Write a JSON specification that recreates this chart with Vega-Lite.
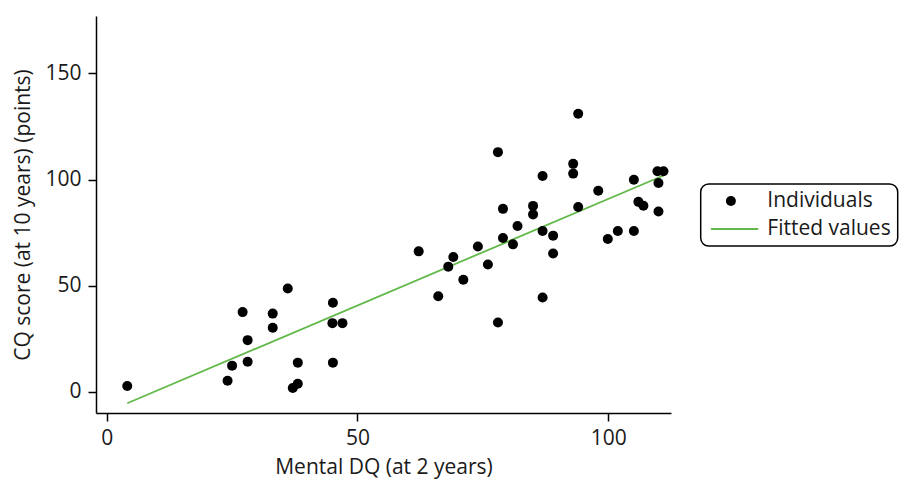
{
  "$schema": "https://vega.github.io/schema/vega-lite/v6.json",
  "width": 575,
  "height": 397,
  "autosize": {"type": "none"},
  "padding": {"left": 96, "top": 16, "right": 230, "bottom": 69},
  "background": "white",
  "config": {
    "view": {"stroke": null},
    "font": "Open Sans",
    "axis": {
      "grid": false,
      "domainColor": "black",
      "domainWidth": 1.5,
      "tickColor": "black",
      "tickWidth": 1.5,
      "tickSize": 8,
      "labelFontSize": 21,
      "titleFontSize": 21,
      "labelColor": "#1a1a1a",
      "titleColor": "#1a1a1a",
      "titleFontWeight": "normal",
      "labelFont": "Open Sans",
      "titleFont": "Open Sans"
    }
  },
  "datasets": {
    "pts": [
      {"dq": 4.1, "cq": 2.8},
      {"dq": 24.1, "cq": 5.3},
      {"dq": 25.0, "cq": 12.4},
      {"dq": 27.1, "cq": 37.6},
      {"dq": 28.1, "cq": 24.4},
      {"dq": 28.1, "cq": 14.2},
      {"dq": 33.1, "cq": 36.9},
      {"dq": 33.1, "cq": 30.2},
      {"dq": 36.1, "cq": 48.7},
      {"dq": 37.1, "cq": 1.9},
      {"dq": 38.1, "cq": 3.9},
      {"dq": 38.1, "cq": 13.8},
      {"dq": 45.1, "cq": 42.0},
      {"dq": 45.0, "cq": 32.4},
      {"dq": 47.0, "cq": 32.4},
      {"dq": 45.1, "cq": 13.8},
      {"dq": 62.2, "cq": 66.2},
      {"dq": 66.1, "cq": 45.1},
      {"dq": 68.1, "cq": 59.0},
      {"dq": 69.1, "cq": 63.5},
      {"dq": 71.1, "cq": 52.8},
      {"dq": 74.0, "cq": 68.5},
      {"dq": 76.0, "cq": 60.0},
      {"dq": 78.0, "cq": 112.9},
      {"dq": 78.0, "cq": 32.7},
      {"dq": 79.0, "cq": 86.2},
      {"dq": 79.0, "cq": 72.5},
      {"dq": 81.0, "cq": 69.5},
      {"dq": 81.9, "cq": 78.1},
      {"dq": 85.0, "cq": 87.6},
      {"dq": 85.0, "cq": 83.6},
      {"dq": 86.9, "cq": 101.7},
      {"dq": 86.9, "cq": 75.8},
      {"dq": 86.9, "cq": 44.5},
      {"dq": 89.0, "cq": 73.6},
      {"dq": 89.0, "cq": 65.2},
      {"dq": 93.0, "cq": 107.4},
      {"dq": 93.0, "cq": 102.8},
      {"dq": 94.0, "cq": 131.0},
      {"dq": 94.0, "cq": 87.1},
      {"dq": 98.0, "cq": 94.7},
      {"dq": 99.9, "cq": 72.0},
      {"dq": 101.9, "cq": 75.8},
      {"dq": 105.1, "cq": 99.9},
      {"dq": 105.1, "cq": 75.8},
      {"dq": 106.0, "cq": 89.5},
      {"dq": 107.0, "cq": 87.7},
      {"dq": 109.8, "cq": 103.9},
      {"dq": 111.0, "cq": 103.9},
      {"dq": 110.0, "cq": 98.4},
      {"dq": 110.0, "cq": 85.0}
    ],
    "fit": [
      {"dq": 4.1, "cq": -5.3},
      {"dq": 111.0, "cq": 101.9}
    ]
  },
  "encoding": {
    "x": {
      "field": "dq",
      "type": "quantitative",
      "scale": {"domain": [-2.13, 112.5], "nice": false, "zero": false},
      "axis": {"values": [0, 50, 100], "title": "Mental DQ (at 2 years)", "labelPadding": 6, "titlePadding": 8}
    },
    "y": {
      "field": "cq",
      "type": "quantitative",
      "scale": {"domain": [-9.9, 177], "nice": false, "zero": false},
      "axis": {"values": [0, 50, 100, 150], "title": "CQ score (at 10 years) (points)", "labelPadding": 7, "titlePadding": 11}
    }
  },
  "layer": [
    {
      "data": {"name": "fit"},
      "mark": {"type": "line", "strokeWidth": 1.8},
      "encoding": {
        "color": {"datum": "Fitted values", "type": "nominal"}
      }
    },
    {
      "data": {"name": "pts"},
      "mark": {"type": "point", "filled": true, "size": 100, "opacity": 1},
      "encoding": {
        "color": {
          "datum": "Individuals",
          "type": "nominal",
          "scale": {"domain": ["Individuals", "Fitted values"], "range": ["black", "#62b94a"]},
          "legend": {
            "title": null,
            "orient": "none",
            "legendX": 604.7,
            "legendY": 168,
            "labelFontSize": 21,
            "labelColor": "#1a1a1a",
            "labelFont": "Open Sans",
            "labelExpr": "datum.label + '\u00a0\u00a0\u00a0\u00a0'",
            "strokeColor": "black",
            "cornerRadius": 8,
            "padding": 6.5,
            "rowPadding": 6,
            "symbolSize": 100,
            "symbolOffset": 13.2,
            "labelOffset": 25.9,
            "symbolOpacity": 1,
            "encode": {
              "legend": {"update": {"strokeWidth": {"value": 1.5}}},
              "symbols": {
                "update": {
                  "shape": {"signal": "datum.value === 'Individuals' ? 'circle' : 'M-4,0H5.46'"},
                  "stroke": {"signal": "datum.value === 'Individuals' ? 'black' : '#62b94a'"},
                  "fill": {"signal": "datum.value === 'Individuals' ? 'black' : 'transparent'"},
                  "strokeWidth": {"signal": "datum.value === 'Individuals' ? 0 : 1.8"}
                }
              }
            }
          }
        }
      }
    }
  ]
}
